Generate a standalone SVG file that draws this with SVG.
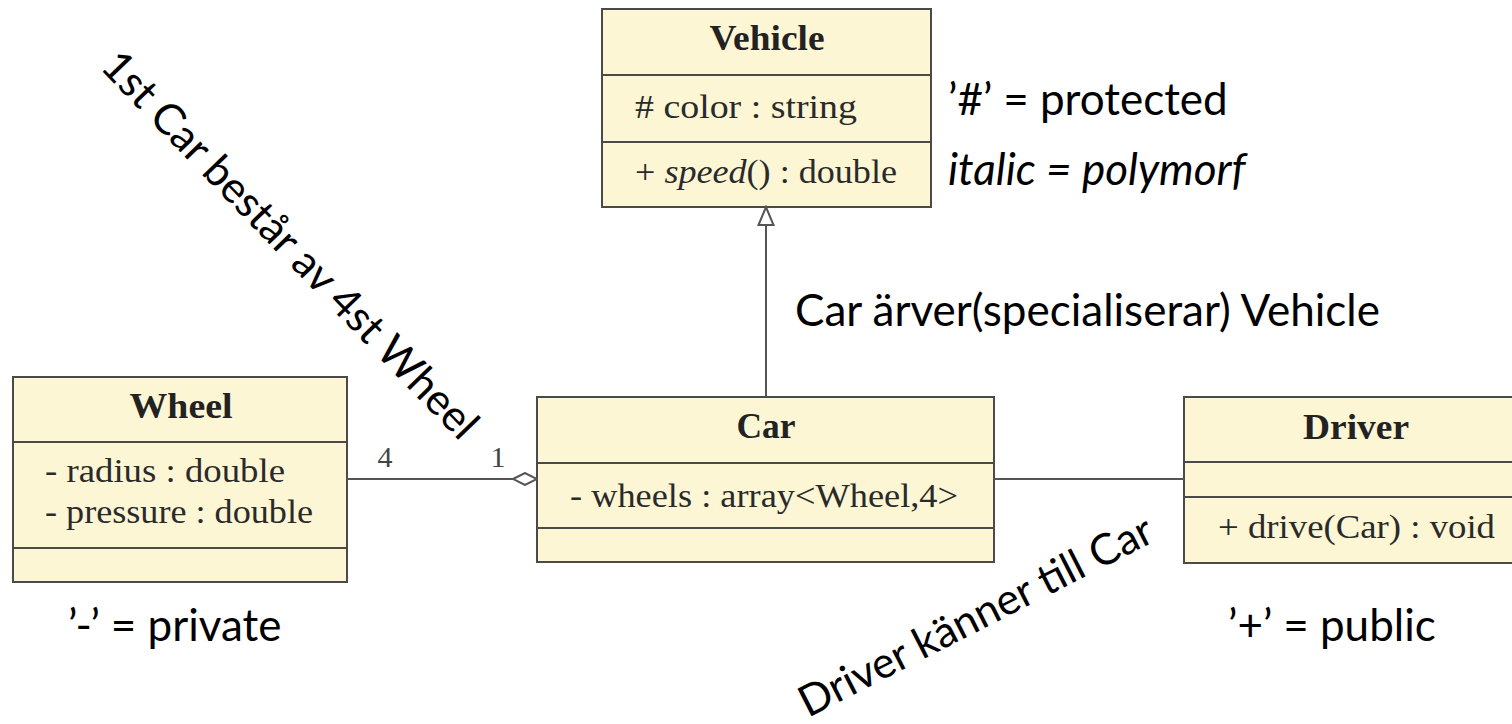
<svg xmlns="http://www.w3.org/2000/svg" width="1512" height="724" viewBox="0 0 1512 724">
  <style>
    .box { fill: #fcf6d5; stroke: #4a4a4a; stroke-width: 2; }
    .sep { stroke: #4a4a4a; stroke-width: 2; }
    .title { font-family: "Liberation Serif", serif; font-weight: bold; font-size: 35px; fill: #222; text-anchor: middle; }
    .member { font-family: "Liberation Serif", serif; font-size: 33px; fill: #2a2a2a; }
    .mult { font-family: "Liberation Serif", serif; font-size: 30px; fill: #444; text-anchor: middle; }
    .edge { stroke: #555; stroke-width: 2; fill: none; }
    .note { font-family: Lato, "Open Sans", sans-serif; font-size: 44px; fill: #000; }
    .slanted { font-size: 43px; }
  </style>
  <defs>
    <marker id="aggregation" markerUnits="userSpaceOnUse" markerWidth="26" markerHeight="14" refX="24" refY="6" orient="auto" viewBox="-1 -1 26 14">
      <path d="M0,6 L12,0 L24,6 L12,12 Z" fill="#fff" stroke="#555" stroke-width="2"/>
    </marker>
    <marker id="generalization" markerUnits="userSpaceOnUse" markerWidth="22" markerHeight="19" refX="18" refY="7.5" orient="auto" viewBox="-2 -2 22 19">
      <path d="M0,0 L18,7.5 L0,15 Z" fill="#fff" stroke="#555" stroke-width="2"/>
    </marker>
  </defs>

  <!-- class Vehicle -->
  <g id="vehicle">
    <rect class="box" x="602" y="9" width="329" height="198"/>
    <line class="sep" x1="602" y1="75" x2="931" y2="75"/>
    <line class="sep" x1="602" y1="142" x2="931" y2="142"/>
    <text class="title" x="767" y="50" textLength="115" lengthAdjust="spacingAndGlyphs">Vehicle</text>
    <text class="member" x="635" y="118" textLength="222" lengthAdjust="spacingAndGlyphs"># color : string</text>
    <text class="member" x="635" y="183" textLength="262" lengthAdjust="spacingAndGlyphs">+ <tspan font-style="italic">speed</tspan>() : double</text>
  </g>

  <!-- class Wheel -->
  <g id="wheel">
    <rect class="box" x="13" y="377" width="334" height="205"/>
    <line class="sep" x1="13" y1="442" x2="347" y2="442"/>
    <line class="sep" x1="13" y1="548" x2="347" y2="548"/>
    <text class="title" x="181" y="418" textLength="103" lengthAdjust="spacingAndGlyphs">Wheel</text>
    <text class="member" x="45" y="482" textLength="240" lengthAdjust="spacingAndGlyphs">- radius : double</text>
    <text class="member" x="45" y="523" textLength="268" lengthAdjust="spacingAndGlyphs">- pressure : double</text>
  </g>

  <!-- class Car -->
  <g id="car">
    <rect class="box" x="537" y="397" width="457" height="165"/>
    <line class="sep" x1="537" y1="463" x2="994" y2="463"/>
    <line class="sep" x1="537" y1="528" x2="994" y2="528"/>
    <text class="title" x="766" y="438" textLength="59" lengthAdjust="spacingAndGlyphs">Car</text>
    <text class="member" x="570" y="507" textLength="388" lengthAdjust="spacingAndGlyphs">- wheels : array&lt;Wheel,4&gt;</text>
  </g>

  <!-- class Driver (runs past the right edge) -->
  <g id="driver">
    <rect class="box" x="1184" y="397" width="346" height="166"/>
    <line class="sep" x1="1184" y1="462" x2="1530" y2="462"/>
    <line class="sep" x1="1184" y1="497" x2="1530" y2="497"/>
    <text class="title" x="1356" y="439" textLength="106" lengthAdjust="spacingAndGlyphs">Driver</text>
    <text class="member" x="1218" y="538" textLength="277" lengthAdjust="spacingAndGlyphs">+ drive(Car) : void</text>
  </g>

  <!-- relations -->
  <g id="connectors">
    <line class="edge" x1="766" y1="397" x2="766" y2="207" marker-end="url(#generalization)"/>
    <line class="edge" x1="347" y1="479" x2="537" y2="479" marker-end="url(#aggregation)"/>
    <line class="edge" x1="994" y1="479" x2="1184" y2="479"/>
    <text class="mult" x="385" y="467">4</text>
    <text class="mult" x="498" y="467">1</text>
  </g>

  <!-- annotations -->
  <g id="notes">
    <text class="note" x="948" y="115">’#’ = protected</text>
    <text class="note" x="948" y="185" font-style="italic">italic = polymorf</text>
    <text class="note" x="795" y="326">Car ärver(specialiserar) Vehicle</text>
    <text class="note" x="68" y="641">’-’ = private</text>
    <text class="note" x="1228" y="641">’+’ = public</text>
    <text class="note slanted" transform="translate(99,68) rotate(46)">1st Car består av 4st Wheel</text>
    <text class="note slanted" transform="translate(808,718) rotate(-27)">Driver känner till Car</text>
  </g>
</svg>
